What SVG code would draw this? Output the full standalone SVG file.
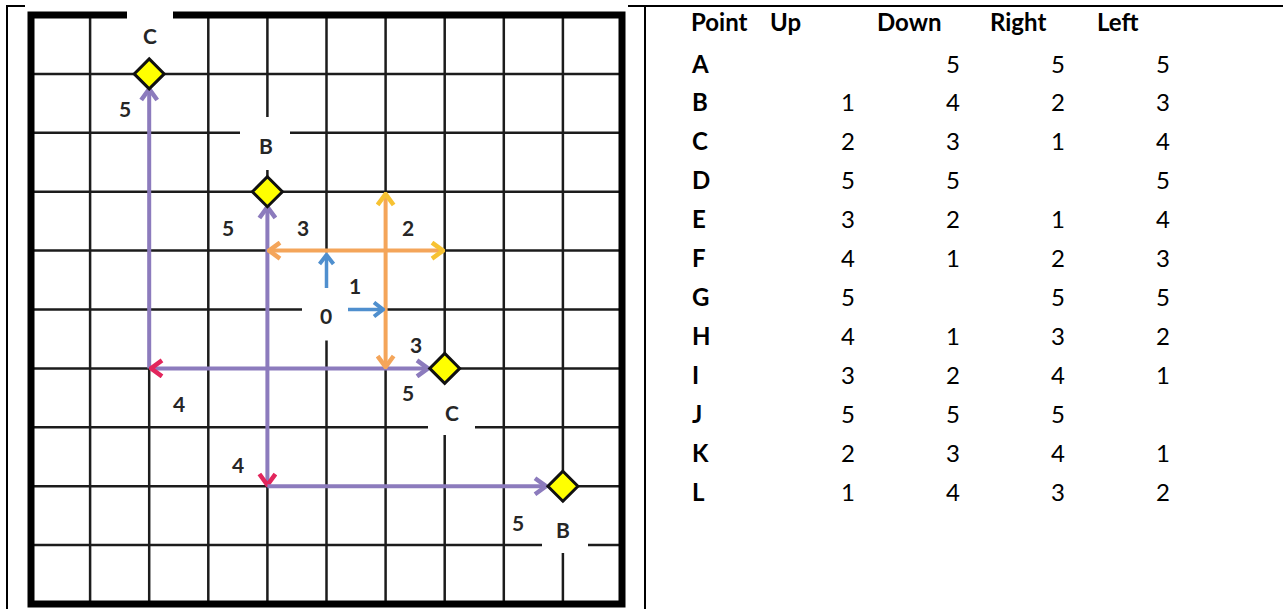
<svg xmlns="http://www.w3.org/2000/svg" width="1283" height="609" viewBox="0 0 1283 609">
<style>
.frame{stroke:#000;stroke-width:2;fill:none}
.grid{stroke:#1c1c1c;stroke-width:2.5;fill:none}
.border{stroke:#000;stroke-width:7;fill:none}
.wipe{fill:#fff;stroke:none}
.pur{stroke:#8c7bbd;stroke-width:4;fill:none}
.org{stroke:#f4a55a;stroke-width:4;fill:none}
.blu{stroke:#4f8fce;stroke-width:3.5;fill:none}
.dia{fill:#ffff00;stroke:#111;stroke-width:3}
.lbl{font-family:Lato,"Liberation Sans",sans-serif;font-weight:bold;font-size:21px;fill:#262626;text-anchor:middle}
.th{font-family:Lato,"Liberation Sans",sans-serif;font-weight:bold;font-size:24px;fill:#000}
.td{font-family:Lato,"Liberation Sans",sans-serif;font-size:24px;fill:#000;text-anchor:middle}
</style>
<defs>
<marker id="mPur" viewBox="-13 -10 15 20" markerWidth="15" markerHeight="20" refX="0" refY="0" orient="auto-start-reverse" markerUnits="userSpaceOnUse"><path d="M-11,-8 L0,0 L-11,8" fill="none" stroke="#8c7bbd" stroke-width="4.5"/></marker>
<marker id="mRed" viewBox="-13 -10 15 20" markerWidth="15" markerHeight="20" refX="0" refY="0" orient="auto-start-reverse" markerUnits="userSpaceOnUse"><path d="M-11,-8 L0,0 L-11,8" fill="none" stroke="#e2265c" stroke-width="4.5"/></marker>
<marker id="mOrg" viewBox="-13 -10 15 20" markerWidth="15" markerHeight="20" refX="0" refY="0" orient="auto-start-reverse" markerUnits="userSpaceOnUse"><path d="M-11,-8 L0,0 L-11,8" fill="none" stroke="#f4a55a" stroke-width="4.5"/></marker>
<marker id="mYel" viewBox="-13 -10 15 20" markerWidth="15" markerHeight="20" refX="0" refY="0" orient="auto-start-reverse" markerUnits="userSpaceOnUse"><path d="M-11,-8 L0,0 L-11,8" fill="none" stroke="#f7c233" stroke-width="4.5"/></marker>
<marker id="mBlu" viewBox="-12 -9 14 18" markerWidth="14" markerHeight="18" refX="0" refY="0" orient="auto-start-reverse" markerUnits="userSpaceOnUse"><path d="M-9,-7 L0,0 L-9,7" fill="none" stroke="#4f8fce" stroke-width="4"/></marker>
</defs>
<rect width="1283" height="609" fill="#fff"/>
<g id="table-frame">
<line class="frame" x1="7" y1="6" x2="25" y2="6"/>
<line class="frame" x1="628" y1="6" x2="1283" y2="6"/>
<line class="frame" x1="7" y1="5" x2="7" y2="609"/>
<line class="frame" x1="645" y1="5" x2="645" y2="609"/>
</g>
<g id="grid">
<path class="grid" d="M90.1,15V604M149.2,15V604M208.3,15V604M267.4,15V604M326.5,15V604M385.6,15V604M444.7,15V604M503.8,15V604M562.9,15V604M31,73.9H622M31,132.8H622M31,191.7H622M31,250.6H622M31,309.5H622M31,368.4H622M31,427.3H622M31,486.2H622M31,545.1H622"/>
<rect class="border" x="31" y="15" width="591" height="589"/>
<rect class="wipe" x="127" y="6" width="46" height="56"/>
<rect class="wipe" x="240" y="117" width="50" height="53"/>
<rect class="wipe" x="302" y="252.5" width="82.5" height="88"/>
<rect class="wipe" x="428" y="384" width="47" height="51"/>
<rect class="wipe" x="542" y="502" width="46" height="51"/>
</g>
<g id="connectors">
<line class="pur" x1="149.2" y1="368.4" x2="149.2" y2="89" marker-end="url(#mPur)"/>
<line class="pur" x1="267.4" y1="485" x2="267.4" y2="207" marker-start="url(#mRed)" marker-end="url(#mPur)"/>
<line class="pur" x1="151" y1="368.4" x2="428" y2="368.4" marker-start="url(#mRed)" marker-end="url(#mPur)"/>
<line class="pur" x1="267.4" y1="486.2" x2="546" y2="486.2" marker-end="url(#mPur)"/>
<line class="org" x1="269" y1="250.6" x2="443" y2="250.6" marker-start="url(#mOrg)" marker-end="url(#mYel)"/>
<line class="org" x1="385.6" y1="367" x2="385.6" y2="194" marker-start="url(#mOrg)" marker-end="url(#mYel)"/>
<line class="blu" x1="326.5" y1="288" x2="326.5" y2="255" marker-end="url(#mBlu)"/>
<line class="blu" x1="348" y1="309.5" x2="383" y2="309.5" marker-end="url(#mBlu)"/>
</g>
<g id="node-C-top"><path class="dia" d="M149.2,58.9L164.2,73.9L149.2,88.9L134.2,73.9Z"/><text class="lbl" x="150" y="44">C</text></g>
<g id="node-B-top"><path class="dia" d="M267.4,176.7L282.4,191.7L267.4,206.7L252.4,191.7Z"/><text class="lbl" x="266" y="154">B</text></g>
<g id="node-C-mid"><path class="dia" d="M444.7,353.4L459.7,368.4L444.7,383.4L429.7,368.4Z"/><text class="lbl" x="452" y="421">C</text></g>
<g id="node-B-bot"><path class="dia" d="M562.9,471.2L577.9,486.2L562.9,501.2L547.9,486.2Z"/><text class="lbl" x="563" y="538">B</text></g>
<g id="node-origin"><text class="lbl" x="326" y="324">0</text></g>
<g id="step-labels">
<text class="lbl" x="125" y="117">5</text>
<text class="lbl" x="228" y="236">5</text>
<text class="lbl" x="303" y="236">3</text>
<text class="lbl" x="408" y="236">2</text>
<text class="lbl" x="355" y="294">1</text>
<text class="lbl" x="416" y="353">3</text>
<text class="lbl" x="408" y="401">5</text>
<text class="lbl" x="179" y="412">4</text>
<text class="lbl" x="238" y="473">4</text>
<text class="lbl" x="518" y="531">5</text>
</g>
<g id="table">
<text class="th" x="691" y="31">Point</text>
<text class="th" x="770" y="31">Up</text>
<text class="th" x="877" y="31">Down</text>
<text class="th" x="990" y="31">Right</text>
<text class="th" x="1097" y="31">Left</text>
<text class="th" x="692" y="73">A</text><text class="td" x="953" y="73">5</text><text class="td" x="1058" y="73">5</text><text class="td" x="1163" y="73">5</text>
<text class="th" x="692" y="111">B</text><text class="td" x="848" y="111">1</text><text class="td" x="953" y="111">4</text><text class="td" x="1058" y="111">2</text><text class="td" x="1163" y="111">3</text>
<text class="th" x="692" y="150">C</text><text class="td" x="848" y="150">2</text><text class="td" x="953" y="150">3</text><text class="td" x="1058" y="150">1</text><text class="td" x="1163" y="150">4</text>
<text class="th" x="692" y="189">D</text><text class="td" x="848" y="189">5</text><text class="td" x="953" y="189">5</text><text class="td" x="1163" y="189">5</text>
<text class="th" x="692" y="228">E</text><text class="td" x="848" y="228">3</text><text class="td" x="953" y="228">2</text><text class="td" x="1058" y="228">1</text><text class="td" x="1163" y="228">4</text>
<text class="th" x="692" y="267">F</text><text class="td" x="848" y="267">4</text><text class="td" x="953" y="267">1</text><text class="td" x="1058" y="267">2</text><text class="td" x="1163" y="267">3</text>
<text class="th" x="692" y="306">G</text><text class="td" x="848" y="306">5</text><text class="td" x="1058" y="306">5</text><text class="td" x="1163" y="306">5</text>
<text class="th" x="692" y="345">H</text><text class="td" x="848" y="345">4</text><text class="td" x="953" y="345">1</text><text class="td" x="1058" y="345">3</text><text class="td" x="1163" y="345">2</text>
<text class="th" x="692" y="384">I</text><text class="td" x="848" y="384">3</text><text class="td" x="953" y="384">2</text><text class="td" x="1058" y="384">4</text><text class="td" x="1163" y="384">1</text>
<text class="th" x="692" y="423">J</text><text class="td" x="848" y="423">5</text><text class="td" x="953" y="423">5</text><text class="td" x="1058" y="423">5</text>
<text class="th" x="692" y="462">K</text><text class="td" x="848" y="462">2</text><text class="td" x="953" y="462">3</text><text class="td" x="1058" y="462">4</text><text class="td" x="1163" y="462">1</text>
<text class="th" x="692" y="501">L</text><text class="td" x="848" y="501">1</text><text class="td" x="953" y="501">4</text><text class="td" x="1058" y="501">3</text><text class="td" x="1163" y="501">2</text>
</g>
</svg>
